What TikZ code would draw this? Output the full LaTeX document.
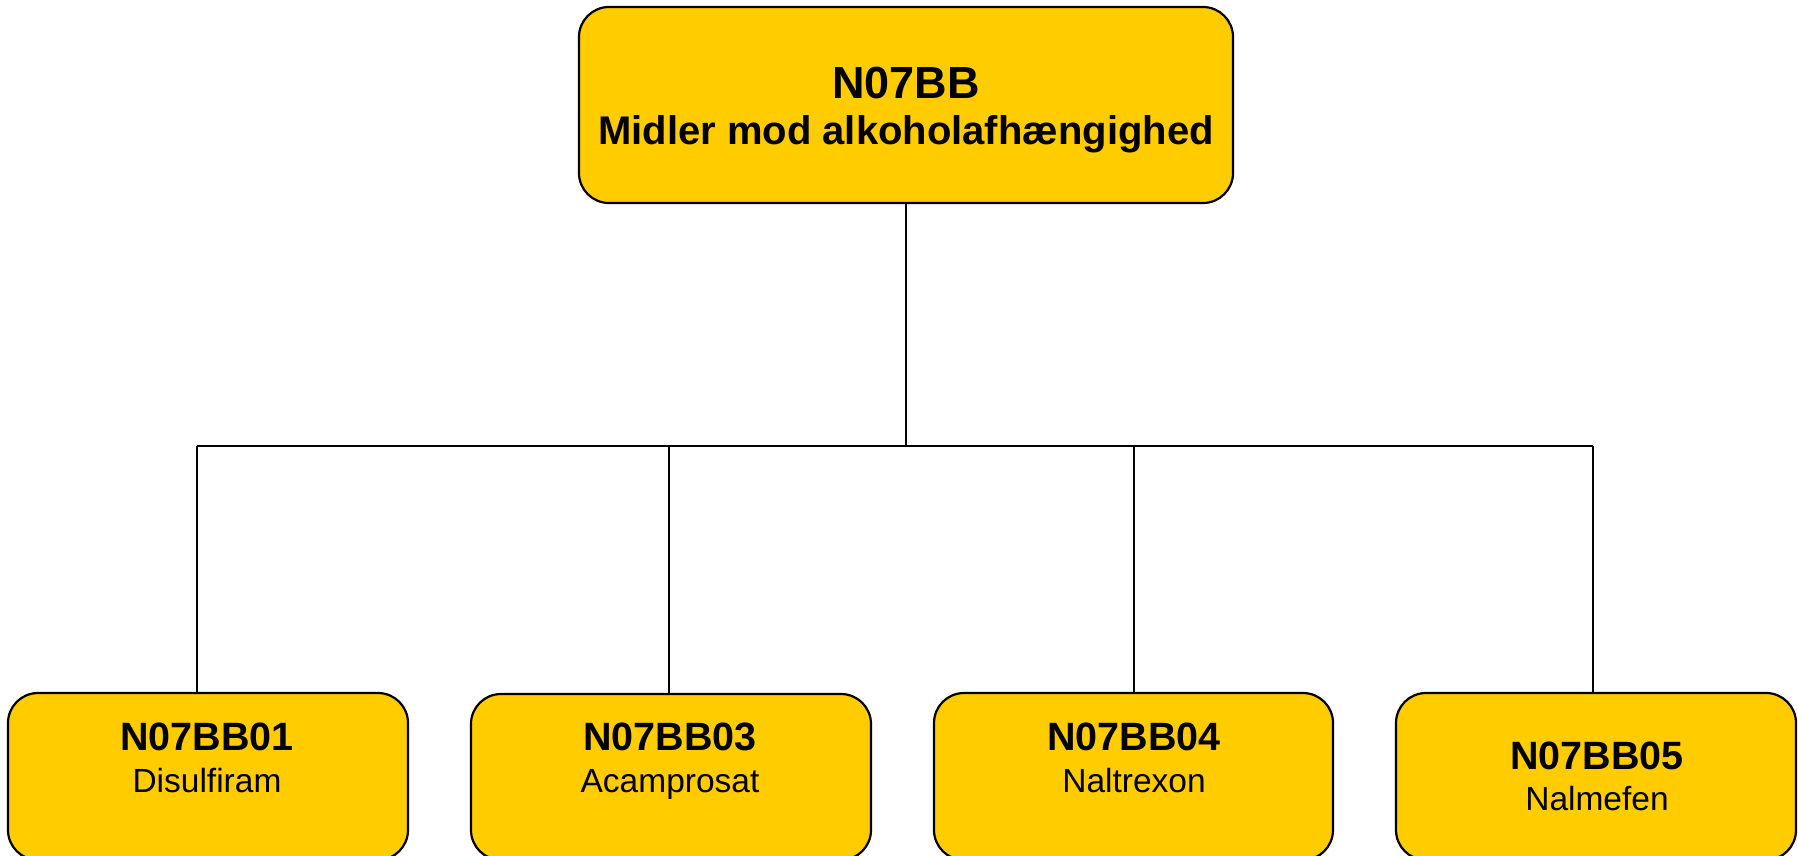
\documentclass[tikz,border=0pt]{standalone}
\usepackage{fontspec}
\setmainfont{Liberation Sans}
\definecolor{boxfill}{HTML}{FFCC00}
\tikzset{
  box/.style={draw=black, line width=2.2pt, fill=boxfill, rounded corners=30pt, inner sep=0pt, outer sep=0pt},
  conn/.style={draw=black, line width=2.6pt},
  bigcode/.style={anchor=base, inner sep=0pt, font=\bfseries\fontsize{45pt}{54pt}\selectfont},
  subtitle/.style={anchor=base, inner sep=0pt, font=\bfseries\fontsize{40pt}{48pt}\selectfont},
  code/.style={anchor=base, inner sep=0pt, font=\bfseries\fontsize{39.5pt}{47pt}\selectfont},
  drug/.style={anchor=base, inner sep=0pt, font=\fontsize{33.5pt}{40pt}\selectfont}
}
\begin{document}
\begin{tikzpicture}[x=1pt,y=-1pt]
\useasboundingbox[fill=white] (0,0) rectangle (1798,855);
\begin{scope}
\clip (0,0) rectangle (1798,855);
% boxes
\node[box, minimum width=654pt, minimum height=196pt] (top) at (906,105) {};
\node[box, minimum width=400pt, minimum height=167pt] (b1) at (208,776.5) {};
\node[box, minimum width=400pt, minimum height=166pt] (b2) at (671,777) {};
\node[box, minimum width=399pt, minimum height=167pt] (b3) at (1133.5,776.5) {};
\node[box, minimum width=400pt, minimum height=167pt] (b4) at (1596,776.5) {};
\end{scope}
% texts
\node[bigcode] (t0a) at (906,98) {N07BB};
\node[subtitle] (t0b) at (906,144) {Midler mod alkoholafhængighed};
\node[code] (t1a) at (207,750) {N07BB01};
\node[drug] (t1b) at (207,792) {Disulfiram};
\node[code] (t2a) at (670,750) {N07BB03};
\node[drug] (t2b) at (670,792) {Acamprosat};
\node[code] (t3a) at (1134,750) {N07BB04};
\node[drug] (t3b) at (1134,792) {Naltrexon};
\node[code] (t4a) at (1597,769) {N07BB05};
\node[drug] (t4b) at (1597,810) {Nalmefen};
% connectors
\coordinate (j0) at (906,446);
\coordinate (j1) at (197,446);
\coordinate (j2) at (669,446);
\coordinate (j3) at (1134,446);
\coordinate (j4) at (1593,446);
\draw[conn] (top.south) -- (j0);
\draw[conn] (j1) -- (j4);
\draw[conn] (j1) -- (j1 |- b1.north);
\draw[conn] (j2) -- (j2 |- b2.north);
\draw[conn] (j3) -- (j3 |- b3.north);
\draw[conn] (j4) -- (j4 |- b4.north);
\end{tikzpicture}
\end{document}
